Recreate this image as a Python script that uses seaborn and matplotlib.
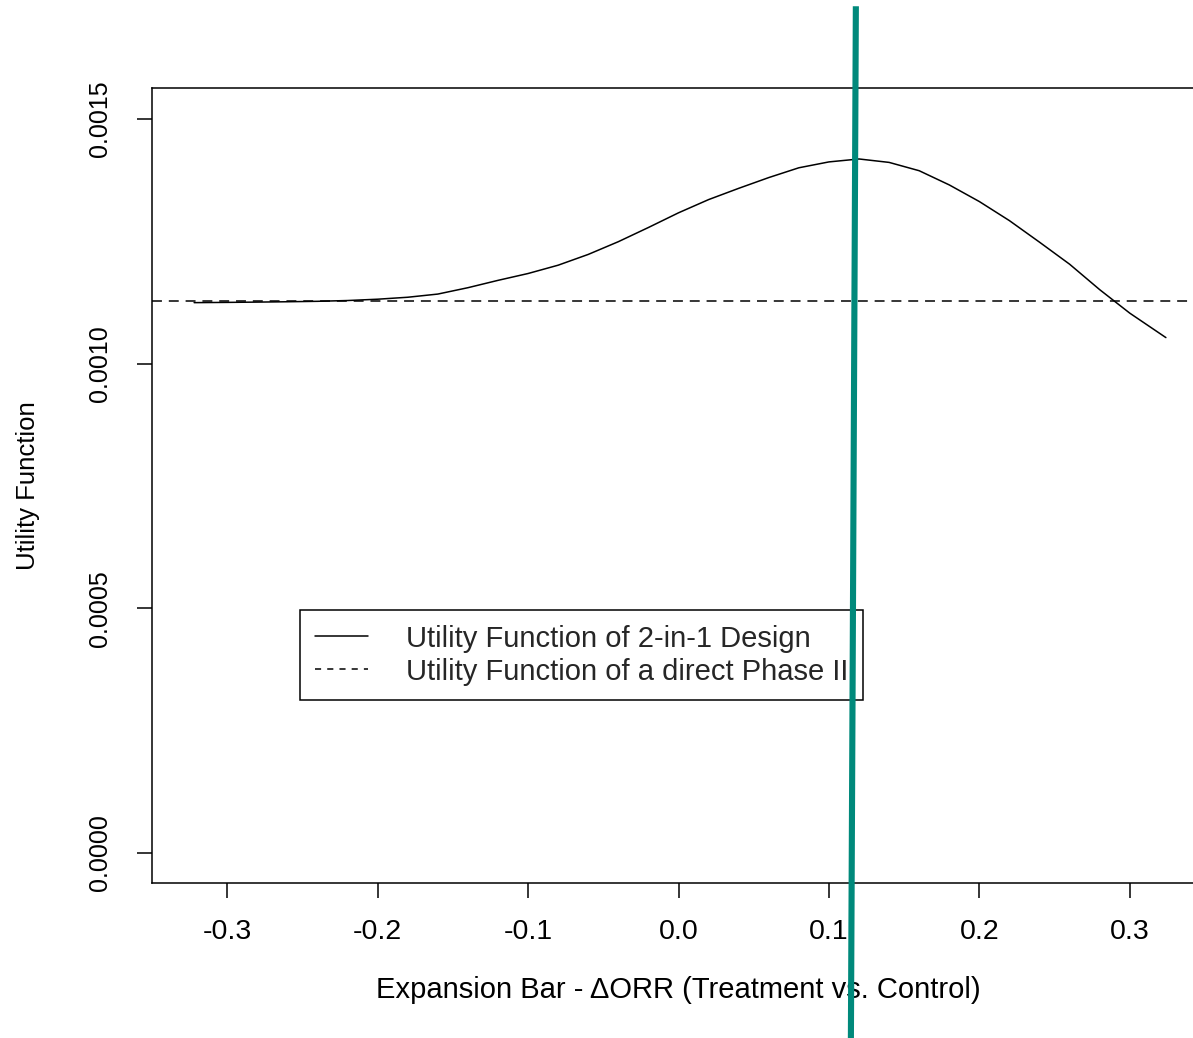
import matplotlib
matplotlib.use("Agg")
import matplotlib.pyplot as plt
from matplotlib.lines import Line2D
import seaborn as sns
import pandas as pd

# ---- data ----
delta_orr = [-0.322, -0.30, -0.28, -0.26, -0.24, -0.22, -0.20, -0.18, -0.16, -0.14,
             -0.12, -0.10, -0.08, -0.06, -0.04, -0.02, 0.00, 0.02, 0.04, 0.06,
             0.08, 0.10, 0.12, 0.14, 0.16, 0.18, 0.20, 0.22, 0.24, 0.26, 0.28,
             0.30, 0.324]
utility_2in1 = [0.0011245, 0.0011250, 0.0011256, 0.0011263, 0.0011272, 0.0011288,
                0.0011315, 0.0011355, 0.0011420, 0.0011550, 0.0011700, 0.0011840,
                0.0012010, 0.0012230, 0.0012490, 0.0012780, 0.0013080, 0.0013350,
                0.0013580, 0.0013800, 0.0014000, 0.0014120, 0.0014180, 0.0014110,
                0.0013940, 0.0013650, 0.0013310, 0.0012920, 0.0012480, 0.0012030,
                0.0011510, 0.0011030, 0.0010531]
utility_direct = 0.001127
x_ticks = [-0.3, -0.2, -0.1, 0.0, 0.1, 0.2, 0.3]
x_tick_labels = ["-0.3", "-0.2", "-0.1", "0.0", "0.1", "0.2", "0.3"]
y_ticks = [0.0, 0.0005, 0.0010, 0.0015]
y_tick_labels = ["0.0000", "0.0005", "0.0010", "0.0015"]
legend_labels = ["Utility Function of 2-in-1 Design",
                 "Utility Function of a direct Phase II"]
marker_x = [0.1179, 0.1146]      # overlay marker line (annotation)
marker_y = [0.00173, -0.00038]

df = pd.DataFrame({"x": delta_orr, "u": utility_2in1})

sns.set_theme(style="white")
plt.rcParams["font.family"] = ["Liberation Sans", "DejaVu Sans"]

W, H = 1193, 1038
fig = plt.figure(figsize=(W / 100, H / 100), dpi=100)
ax = fig.add_axes([152 / W, 155 / H, (1205 - 152) / W, (883 - 88) / H])

sns.lineplot(data=df, x="x", y="u", ax=ax, color="black", linewidth=1.1)
ax.axhline(utility_direct, color="black", linewidth=1.1, dashes=(6.5, 4.5))

ax.set_xlim(-0.35, 0.35)
ax.set_ylim(-0.0000612, 0.001563)
ax.set_xticks(x_ticks)
ax.set_xticklabels(x_tick_labels, fontsize=20.5)
ax.set_yticks(y_ticks)
ax.set_yticklabels(y_tick_labels, rotation=90, va="center", fontsize=18)
ax.tick_params(axis="both", direction="out", length=11, width=1.1, color="black",
               labelcolor="black", bottom=True, left=True)
ax.tick_params(axis="x", pad=15)
ax.tick_params(axis="y", pad=18)
for s in ax.spines.values():
    s.set_color("black")
    s.set_linewidth(1.1)

ax.set_xlabel("Expansion Bar - \u0394ORR (Treatment vs. Control)", fontsize=21,
              color="black", labelpad=22)
ax.set_ylabel("Utility Function", fontsize=18.5, color="black", labelpad=34)

handles = [Line2D([0], [0], color="black", linewidth=1.1),
           Line2D([0], [0], color="black", linewidth=1.1, dashes=(4, 4))]
leg = ax.legend(handles, legend_labels, loc="lower left",
                bbox_to_anchor=(0.1405, 0.230), fontsize=21, frameon=True,
                fancybox=False, edgecolor="black", framealpha=1,
                borderaxespad=0, handlelength=1.85, handletextpad=1.3,
                borderpad=0.5, labelspacing=0.17)
leg.get_frame().set_linewidth(1.1)

ax.plot(marker_x, marker_y, color="#00897B", linewidth=4.4, clip_on=False,
        solid_capstyle="butt", zorder=10)

fig.savefig("out.png", dpi=100)
